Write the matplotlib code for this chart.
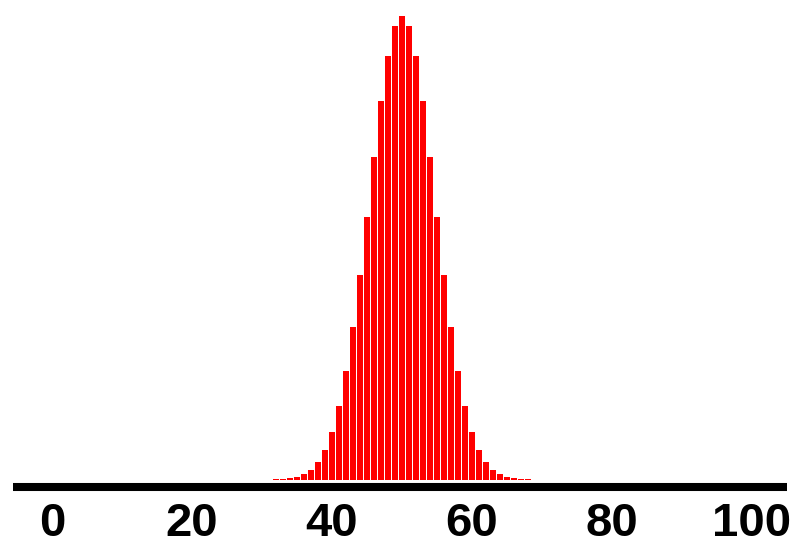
import matplotlib
matplotlib.use("Agg")
import matplotlib.pyplot as plt

# Data (bar heights, probability-like units)
k_values = list(range(32, 69))
left_half = [0.00012, 0.00017, 0.00034, 0.00051, 0.00098, 0.00166, 0.00304,
             0.00515, 0.00818, 0.01264, 0.01865, 0.02625, 0.03512, 0.04512,
             0.05541, 0.06502, 0.07269, 0.07789]
peak = [0.0796]
right_half = [0.07789, 0.07269, 0.06502, 0.05541, 0.04512, 0.03512, 0.02625,
              0.01865, 0.01264, 0.00818, 0.00515, 0.00304, 0.00166, 0.00098,
              0.00051, 0.00034, 0.00017, 0.00012]
heights = left_half + peak + right_half
tick_values = [0, 20, 40, 60, 80, 100]
tick_labels = ["0", "20", "40", "60", "80", "100"]

fig = plt.figure(figsize=(8.0, 5.55), dpi=100)
ax = fig.add_axes([13 / 800, 68.5 / 555, 774 / 800, 476.5 / 555])

ax.bar(k_values, heights, width=0.72, color="#ff0000", linewidth=0)

ax.set_xlim(-5.57, 105.0)
ax.set_ylim(-0.00117, 0.0806)

for side in ("top", "right", "left"):
    ax.spines[side].set_visible(False)
ax.spines["bottom"].set_linewidth(5.8)
ax.spines["bottom"].set_color("black")
ax.spines["bottom"].set_capstyle("butt")

ax.set_yticks([])
ax.set_xticks(tick_values)
ax.set_xticklabels(tick_labels, fontfamily=["Liberation Sans", "DejaVu Sans"],
                   fontweight="bold", fontsize=34)
ax.tick_params(axis="x", length=0, pad=11)

fig.savefig("out.png", dpi=100, facecolor="white")
